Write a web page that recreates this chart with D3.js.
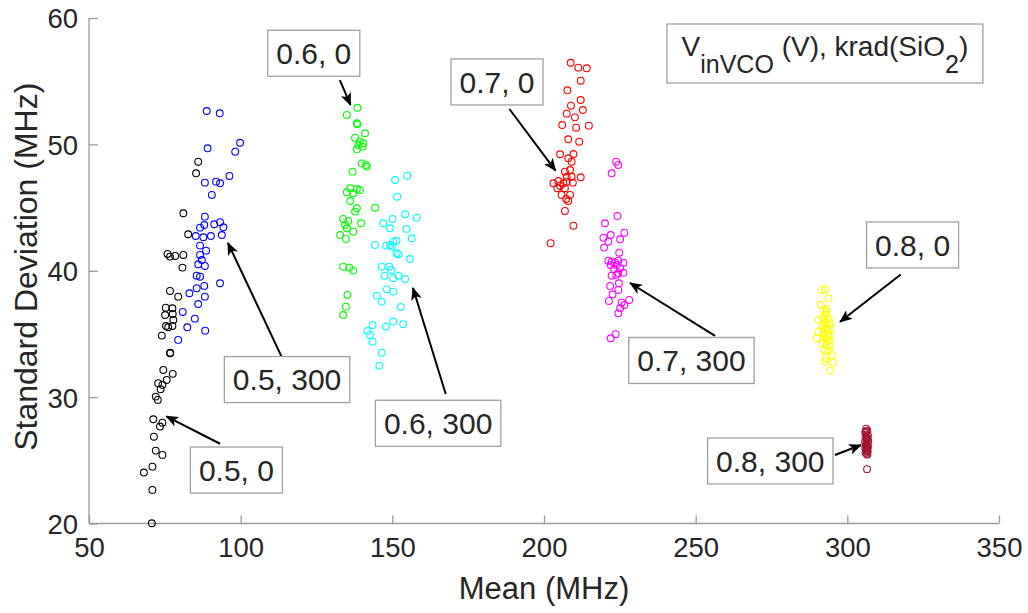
<!DOCTYPE html>
<html><head><meta charset="utf-8">
<script src="https://cdn.jsdelivr.net/npm/d3@7"></script>
<style>
html,body{margin:0;padding:0;background:#fff;}
text{font-family:"Liberation Sans",Arial,Helvetica,sans-serif;fill:#262626;}
</style></head>
<body><svg id="chart" width="1028" height="613"></svg>
<script>
// ---- data ----
const xTicks = [50, 100, 150, 200, 250, 300, 350];
const yTicks = [20, 30, 40, 50, 60];
const xTitle = "Mean (MHz)";
const yTitle = "Standard Deviation (MHz)";

const s05_0 = [[86.0,48.63],[85.3,47.71],[81.1,44.55],[82.7,42.89],[75.9,41.33],[76.7,41.12],[78.4,41.17],[81.1,41.25],[80.8,40.25],[76.7,38.40],[79.4,37.95],[75.3,37.08],[77.5,37.03],[75.1,36.50],[77.6,36.58],[75.4,35.63],[77.8,36.11],[77.5,35.63],[76.1,35.53],[74.0,34.87],[76.7,33.47],[76.8,33.52],[74.5,32.15],[77.6,31.84],[75.6,31.36],[72.8,31.10],[74.2,30.97],[73.6,30.63],[72.0,30.04],[72.7,29.78],[71.2,28.25],[74.2,27.98],[73.4,27.67],[71.4,26.87],[72.0,25.77],[74.2,25.43],[70.9,24.50],[68.1,24.03],[70.9,22.66],[70.7,20.02]];
const s05_300 = [[88.8,52.64],[93.1,52.46],[99.8,50.13],[98.2,49.42],[89.1,49.69],[96.3,47.50],[88.2,46.97],[91.9,47.05],[93.2,46.92],[90.5,46.00],[88.2,44.28],[86.6,43.41],[88.0,43.62],[91.3,43.68],[93.2,43.84],[94.3,43.44],[85.2,42.75],[87.7,42.65],[90.2,42.75],[93.8,42.83],[86.6,41.99],[88.6,41.59],[86.6,41.25],[87.2,40.85],[86.0,40.51],[88.2,40.38],[85.5,39.61],[86.6,39.53],[93.2,39.01],[88.0,38.80],[85.5,38.62],[83.1,38.22],[88.2,37.95],[86.0,37.37],[80.9,36.74],[84.9,36.21],[82.4,35.53],[88.3,35.26],[79.4,34.53]];
const s06_0 = [[138.5,52.90],[135.0,52.33],[138.3,51.67],[138.5,51.59],[141.0,50.88],[137.7,50.53],[139.3,50.21],[140.4,50.09],[138.8,49.95],[140.2,49.82],[138.3,49.61],[139.9,48.50],[141.3,48.37],[141.6,48.24],[136.9,47.84],[136.1,46.53],[138.3,46.47],[139.3,46.39],[135.0,46.21],[137.1,46.13],[136.1,45.52],[144.3,44.99],[138.3,44.94],[137.7,44.68],[133.8,44.10],[135.5,43.94],[134.4,43.62],[135.0,43.36],[139.7,43.76],[137.1,43.09],[132.8,42.83],[134.7,42.52],[133.8,40.32],[135.8,40.25],[137.1,40.01],[135.2,38.09],[134.7,37.16],[133.8,36.50]];
const s06_300 = [[154.9,47.52],[150.9,47.18],[151.6,45.86],[154.2,44.47],[158.0,44.20],[147.0,43.76],[150.1,44.10],[149.2,43.36],[154.7,43.31],[156.4,42.57],[144.3,42.04],[147.9,41.99],[149.2,42.04],[150.3,42.30],[151.4,42.38],[149.8,41.91],[151.4,41.38],[152.0,41.31],[155.8,40.93],[146.5,40.32],[149.0,40.32],[149.6,40.06],[147.4,39.61],[150.3,39.41],[152.0,39.61],[154.2,39.35],[148.2,38.54],[150.3,38.35],[144.9,38.03],[146.5,37.56],[152.8,37.14],[143.5,35.71],[141.8,35.24],[142.6,34.92],[143.5,34.39],[150.3,35.98],[147.9,35.58],[153.6,35.77],[146.5,33.52],[145.7,32.49]];
const s07_0 = [[208.8,56.46],[211.3,56.07],[214.1,56.02],[212.1,55.04],[207.7,54.28],[212.1,53.51],[208.9,53.06],[212.8,52.72],[207.5,52.43],[210.2,52.14],[206.0,51.53],[210.6,51.32],[214.8,51.48],[208.0,50.40],[211.6,50.21],[205.3,49.22],[209.7,49.24],[208.0,48.90],[209.1,48.63],[206.9,47.84],[208.6,47.97],[207.5,47.44],[209.1,47.44],[212.1,47.40],[203.1,46.92],[204.7,47.10],[205.3,46.73],[206.4,46.92],[207.5,47.05],[209.5,46.97],[204.4,46.53],[206.9,46.53],[205.8,46.00],[208.6,46.00],[207.3,45.68],[208.0,45.52],[206.9,44.73],[209.7,43.57],[202.2,42.18]];
const s07_300 = [[223.8,48.63],[224.5,48.37],[222.3,47.71],[224.2,44.34],[220.1,43.76],[226.5,43.01],[222.0,42.83],[219.6,42.62],[225.1,42.49],[221.2,42.30],[219.8,41.83],[224.8,41.43],[221.2,40.80],[222.3,40.72],[223.4,40.64],[224.5,40.80],[226.2,40.64],[222.0,40.46],[224.0,40.46],[223.1,40.12],[225.1,40.20],[226.2,39.85],[224.5,39.80],[222.3,39.61],[223.8,39.67],[224.7,39.01],[221.8,38.80],[224.5,38.48],[222.6,38.14],[221.4,37.61],[225.6,37.48],[226.5,37.29],[228.1,37.69],[225.1,37.03],[224.5,36.64],[222.0,34.66],[223.6,34.98]];
const s08_0 = [[291.6,38.48],[292.7,38.54],[293.8,37.82],[291.2,37.29],[292.1,36.90],[293.2,36.76],[290.5,36.11],[292.1,36.24],[293.8,36.16],[291.6,35.71],[293.2,35.58],[294.3,35.85],[290.5,35.18],[292.1,35.06],[293.8,35.06],[294.5,35.37],[292.7,34.66],[294.1,34.53],[289.9,34.66],[291.9,34.26],[293.2,34.13],[294.3,34.00],[292.3,33.73],[293.8,33.68],[293.0,33.08],[294.9,33.34],[292.7,32.81],[295.4,32.73],[294.5,32.10],[292.8,35.90],[293.4,35.30],[292.6,34.90],[293.6,34.40],[292.9,36.50],[293.1,37.00],[292.5,35.50],[293.9,34.80]];
const s08_300 = [[306.2,27.50],[306.6,27.35],[305.9,27.20],[306.4,27.05],[306.8,26.95],[306.0,26.85],[306.5,26.75],[306.3,26.62],[306.9,26.55],[305.8,26.48],[306.4,26.40],[306.7,26.30],[306.1,26.22],[306.5,26.12],[306.8,26.05],[305.9,25.98],[306.3,25.90],[306.6,25.82],[306.2,25.75],[306.7,25.68],[306.0,25.60],[306.4,25.52],[306.6,25.45],[306.3,26.70],[306.1,27.30],[306.5,24.30]];

const groups = [
  {name:"0.5, 0",   color:"#000000", pts:s05_0},
  {name:"0.5, 300", color:"#0000ff", pts:s05_300},
  {name:"0.6, 0",   color:"#00ff00", pts:s06_0},
  {name:"0.6, 300", color:"#00ffff", pts:s06_300},
  {name:"0.7, 0",   color:"#ff0000", pts:s07_0},
  {name:"0.7, 300", color:"#ff00ff", pts:s07_300},
  {name:"0.8, 0",   color:"#ffff00", pts:s08_0},
  {name:"0.8, 300", color:"#a2142f", pts:s08_300}
];

// annotation boxes (center in data coords) and arrows (data coords)
const labelNames  = ["0.5, 0","0.5, 300","0.6, 0","0.6, 300","0.7, 0","0.7, 300","0.8, 0","0.8, 300"];
const labelCenter = [[98.6,24.23],[115.3,31.39],[124.1,57.21],[165.1,27.93],[184.5,54.94],[248.6,32.90],[321.5,42.04],[274.6,24.95]];
const arrowFrom   = [[93.2,26.31],[113.4,33.25],[132.7,55.09],[167.6,30.25],[188.6,52.80],[256.4,34.84],[317.6,39.71],[295.9,25.42]];
const arrowTo     = [[75.5,28.48],[95.8,42.20],[136.2,53.12],[156.8,38.64],[203.8,47.93],[228.4,39.03],[297.6,35.96],[304.5,26.21]];
const legendCenter = [292.6,57.19];

// ---- layout ----
const W = 1028, H = 613;
const m = {left:89, top:18, right:29, bottom:89.5};
const svg = d3.select("#chart");
const x = d3.scaleLinear().domain([50,350]).range([m.left, W - m.right]);
const y = d3.scaleLinear().domain([20,60]).range([H - m.bottom, m.top]);
const axisColor = "#9a9a9a";

// axes
const gx = svg.append("g").attr("transform",`translate(0,${H-m.bottom})`)
  .call(d3.axisBottom(x).tickValues(xTicks).tickSize(-8).tickPadding(14).tickFormat(d3.format("d")));
const gy = svg.append("g").attr("transform",`translate(${m.left},0)`)
  .call(d3.axisLeft(y).tickValues(yTicks).tickSize(-9).tickPadding(11).tickFormat(d3.format("d")));
[gx,gy].forEach(g=>{
  g.select(".domain").attr("stroke",axisColor).attr("stroke-width",1.3).attr("d", g===gx ? `M${x(50)},0H${x(350)}` : `M0,${y(20)}V${y(60)}`);
  g.selectAll(".tick line").attr("stroke",axisColor).attr("stroke-width",1.3);
  g.selectAll(".tick text").attr("fill","#262626").style("font-size","27.5px").style("font-family",'"Liberation Sans",Arial,sans-serif');
});
gx.selectAll(".tick text").attr("dy","0.71em");
gy.selectAll(".tick text").attr("dy","0.36em");

// titles
svg.append("text").attr("x", (x(50)+x(350))/2).attr("y", 599).attr("text-anchor","middle")
  .style("font-size","31px").text(xTitle);
svg.append("text").attr("transform",`translate(37,${(y(20)+y(60))/2 - 4}) rotate(-90)`).attr("text-anchor","middle")
  .style("font-size","32px").text(yTitle);

// points
groups.forEach(g=>{
  svg.append("g").selectAll("circle").data(g.pts).join("circle")
    .attr("cx",d=>x(d[0])).attr("cy",d=>y(d[1])).attr("r",3.4)
    .attr("fill","none").attr("stroke",g.color).attr("stroke-width",1.1);
});

// arrows
const defs = svg.append("defs");
defs.append("marker").attr("id","ah").attr("viewBox","0 0 12 10").attr("refX",11).attr("refY",5)
  .attr("markerWidth",13).attr("markerHeight",11).attr("markerUnits","userSpaceOnUse").attr("orient","auto")
  .append("path").attr("d","M0,0 L12,5 L0,10 L3,5 Z").attr("fill","#000");
arrowFrom.forEach((f,i)=>{
  const t = arrowTo[i];
  svg.append("line").attr("x1",x(f[0])).attr("y1",y(f[1])).attr("x2",x(t[0])).attr("y2",y(t[1]))
    .attr("stroke","#000").attr("stroke-width",2).attr("marker-end","url(#ah)");
});

// label boxes
labelNames.forEach((n,i)=>{
  const c = labelCenter[i];
  const g = svg.append("g").attr("transform",`translate(${x(c[0])},${y(c[1])})`);
  const t = g.append("text").attr("text-anchor","middle").attr("dy","0.36em").style("font-size","30px").text(n);
  const bb = t.node().getBBox();
  const bw = bb.width + 17, bh = 46;
  g.insert("rect","text").attr("x",-bw/2).attr("y",-bh/2).attr("width",bw).attr("height",bh)
    .attr("fill","#fff").attr("stroke","#a0a0a0").attr("stroke-width",1.3);
});

// legend title box
{
  const g = svg.append("g").attr("transform",`translate(${x(legendCenter[0])},${y(legendCenter[1])})`);
  const t = g.append("text").attr("text-anchor","middle").attr("y",2).style("font-size","28px");
  t.append("tspan").text("V");
  t.append("tspan").attr("dy",17).style("font-size","25px").text("inVCO");
  t.append("tspan").attr("dy",-17).text(" (V), krad(SiO");
  t.append("tspan").attr("dy",17).style("font-size","25px").text("2");
  t.append("tspan").attr("dy",-17).text(")");
  const bw = 316, bh = 59;
  g.insert("rect","text").attr("x",-bw/2).attr("y",-bh/2).attr("width",bw).attr("height",bh)
    .attr("fill","#fff").attr("stroke","#a0a0a0").attr("stroke-width",1.3);
}
</script></body></html>
